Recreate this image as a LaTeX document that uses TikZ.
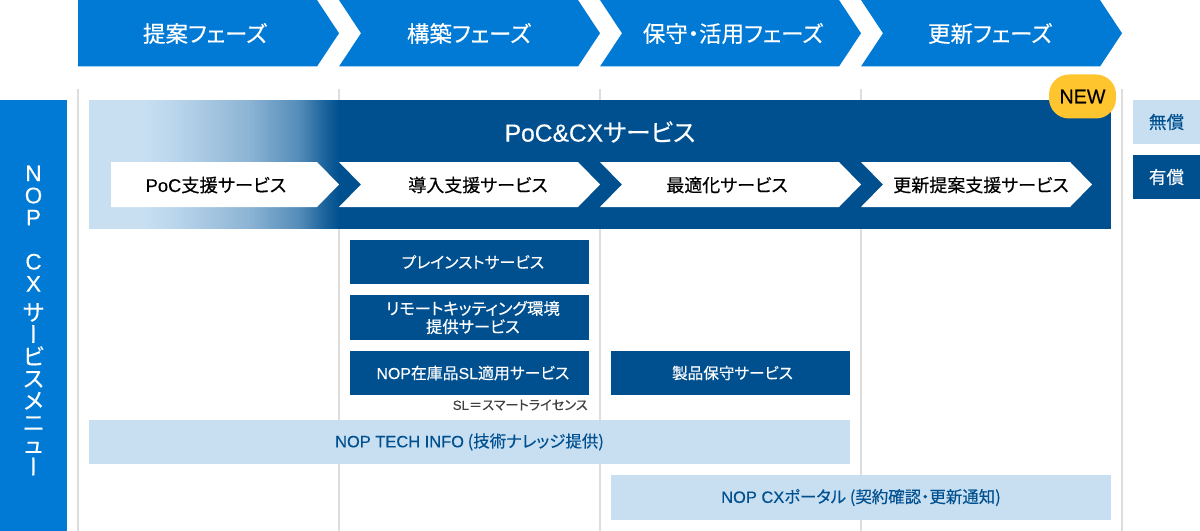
\documentclass[tikz,border=0pt]{standalone}
\usepackage{fontspec}
\usepackage{amsmath}
\usetikzlibrary{calc,positioning}
\setmainfont[RawFeature=+palt,FakeBold=0.3]{Noto Sans CJK JP}
\newfontfamily\vertfont[RawFeature=+vert,FakeBold=0.3]{Noto Sans CJK JP}
\newfontfamily\latfont[FakeBold=0.3]{Liberation Sans}
\newcommand{\lat}[1]{{\latfont #1}}
\newcommand{\nudge}{\hspace*{0.17cm}}
\definecolor{phaseblue}{HTML}{007AD5}
\definecolor{darkblue}{HTML}{00508F}
\definecolor{lightblue}{HTML}{C8DFF2}
\definecolor{gridgray}{HTML}{DDDDDD}
\definecolor{badgeyellow}{HTML}{FFC52F}
\pgfdeclarehorizontalshading{pocfade}{100bp}{color(0bp)=(lightblue); color(25bp)=(lightblue); color(36bp)=(lightblue); color(43bp)=(lightblue!92!darkblue); color(57bp)=(lightblue!70!darkblue); color(67bp)=(lightblue!42!darkblue); color(72bp)=(lightblue!14!darkblue); color(75bp)=(darkblue); color(100bp)=(darkblue)}
\tikzset{
 phase/.style={fill=phaseblue},
 inner/.style={fill=white},
 phaselabel/.style={text=white,inner sep=0pt,font=\fontsize{16}{18}\selectfont},
 innerlabel/.style={text=black,inner sep=0pt,font=\fontsize{12.8}{15}\selectfont},
 item/.style={fill=darkblue,text=white,inner sep=0pt,minimum width=239*0.025cm,minimum height=44.5*0.025cm,align=center,font=\fontsize{11.3}{12.8}\selectfont},
 lightitem/.style={fill=lightblue,text=darkblue,inner sep=0pt,minimum height=44.5*0.025cm,font=\fontsize{11.7}{13}\selectfont},
}
\begin{document}
\begin{tikzpicture}[x=0.025cm,y=-0.025cm]
 \useasboundingbox (0,0) rectangle (1200,531);
 % grid
 \foreach \gx in {78,339,600,861,1122}
  \draw[gridgray,line width=1.5*0.025cm] (\gx,89) -- (\gx,531);
 % top row
 \fill[phase] (78,0) -- (317,0) -- (339,33.25) -- (317,66.5) -- (78,66.5) -- cycle;
 \foreach \xa/\xb in {339/600,600/861,861/1122}
  \fill[phase] (\xa,0) -- (\xb-22,0) -- (\xb,33.25) -- (\xb-22,66.5) -- (\xa,66.5) -- (\xa+22,33.25) -- cycle;
 \node[phaselabel] (teian) at (205,33.5) {提案フェーズ};
 \node[phaselabel] (kouchiku) at (469,33.5) {構築フェーズ};
 \node[phaselabel] (hoshu) at (733,33.5) {保守・活用フェーズ};
 \node[phaselabel] (koshin) at (990,33.5) {更新フェーズ};
 % left bar
 \node[fill=phaseblue,minimum width=67*0.025cm,minimum height=431*0.025cm,inner sep=0pt] (menubar) at (33.5,315.5) {};
 \node[text=white,inner sep=0pt,align=center,font=\fontsize{16}{15.7}\selectfont] (menutext) at (33.5,320.5) {\lat{N}\\\lat{O}\\\lat{P}\\[15.7pt]\lat{C}\\\lat{X}\\[5pt]サ\\{\vertfont ー}\\ビ\\ス\\メ\\ニ\\ュ\\{\vertfont ー}};
 % band
 \fill[darkblue] (339,100) rectangle (1111,229);
 \shade[shading=pocfade] (89,100.3) rectangle (339,228.7);
 \node[text=white,inner sep=0pt,font=\fontsize{17.5}{20}\selectfont] (band) at (600,132) {\lat{PoC\&CX}サービス};
 \node[fill=badgeyellow,rounded corners=0.5cm,minimum width=67*0.025cm,minimum height=44*0.025cm,inner sep=0pt,font=\fontsize{14}{16}\selectfont] (new) at (1082.5,96.5) {\lat{NEW}};
 % inner arrows
 \fill[inner] (111,162) -- (317,162) -- (339,184.5) -- (317,207) -- (111,207) -- cycle;
 \foreach \xa/\xb in {339/600,600/861,861/1092}
  \fill[inner] (\xa,162) -- (\xb-22,162) -- (\xb,184.5) -- (\xb-22,207) -- (\xa,207) -- (\xa+22,184.5) -- cycle;
 \node[innerlabel,font=\fontsize{13}{15}\selectfont] (poc) at (216,185) {\lat{PoC}支援サービス};
 \node[innerlabel] (donyu) at (478,185) {導入支援サービス};
 \node[innerlabel] (saiteki) at (727,185) {最適化サービス};
 \node[innerlabel] (teiansien) at (981,185) {更新提案支援サービス};
 % boxes
 \node[item] (preinst) at (469.5,262) {\nudge プレインストサービス};
 \node[item,font=\fontsize{11.6}{13}\selectfont] (kitting) at (469.5,317.5) {\nudge リモートキッティング環境\\\nudge 提供サービス};
 \node[item] (sl) at (469.5,373) {\nudge\lat{NOP}在庫品\lat{SL}適用サービス};
 \node[item,font=\fontsize{11.1}{12.8}\selectfont] (seihin) at (730.5,373) {\hspace*{0.1cm}製品保守サービス};
 \node[text=black!75,inner sep=0pt,anchor=east,font=\fontsize{9.4}{11}\selectfont] (slnote) at (588,405) {\lat{SL}＝スマートライセンス};
 \node[lightitem,minimum width=761*0.025cm] (techinfo) at (469.5,442) {\lat{NOP TECH INFO} (技術ナレッジ提供)};
 \node[lightitem,minimum width=500*0.025cm] (portal) at (861,497.5) {\lat{NOP CX}ポータル (契約確認・更新通知)};
 % legend
 \node[lightitem,minimum width=67*0.025cm,font=\fontsize{12.5}{14}\selectfont] (muryo) at (1166.5,122) {無償};
 \node[item,minimum width=67*0.025cm,font=\fontsize{12.5}{14}\selectfont] (yuryo) at (1166.5,177) {有償};
\end{tikzpicture}
\end{document}
